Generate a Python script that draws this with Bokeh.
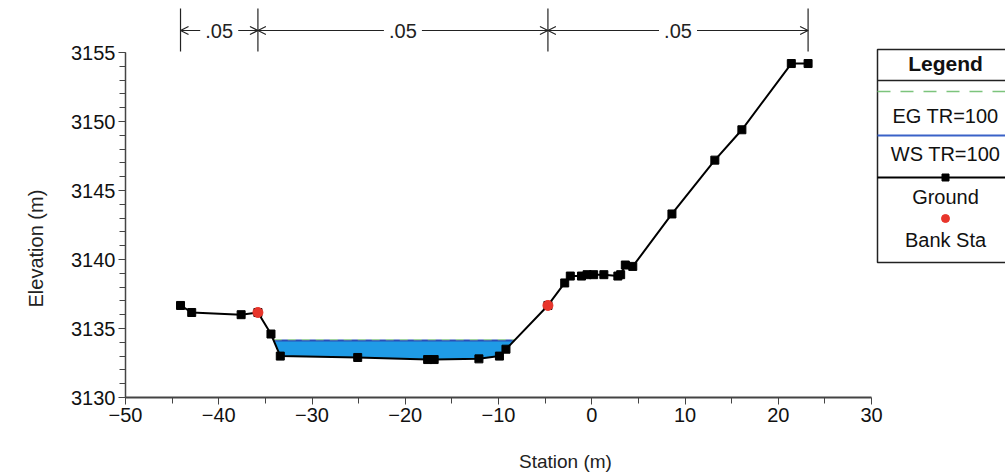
import numpy as np
from bokeh.plotting import figure
from bokeh.models import Range1d, FixedTicker, Arrow, OpenHead, Title
from bokeh.embed import file_html
from bokeh.resources import INLINE
from bokeh.core.properties import value

# ---------------- data ----------------
station = [-44.1, -42.9, -37.6, -35.8, -34.4, -33.4, -25.1, -17.6, -16.9, -12.1,
           -9.9, -9.2, -4.7, -2.9, -2.3, -1.1, -0.5, 0.2, 1.3, 2.8, 3.1, 3.6,
           4.4, 8.6, 13.2, 16.1, 21.4, 23.2]
elevation = [3136.67, 3136.16, 3136.0, 3136.16, 3134.6, 3133.0, 3132.9, 3132.75,
             3132.75, 3132.8, 3133.0, 3133.5, 3136.67, 3138.3, 3138.8, 3138.8,
             3138.9, 3138.9, 3138.9, 3138.8, 3138.9, 3139.6, 3139.5, 3143.3,
             3147.2, 3149.4, 3154.2, 3154.2]
bank_station = [-35.8, -4.7]
bank_elevation = [3136.16, 3136.67]
ws_elev = 3134.13          # WS TR=100
eg_elev = 3134.20          # EG TR=100
n_breaks = [-44.1, -35.8, -4.7, 23.2]
n_values = [".05", ".05", ".05"]
x_ticks = [-50, -40, -30, -20, -10, 0, 10, 20, 30]
y_ticks = [3130, 3135, 3140, 3145, 3150, 3155]
legend_labels = ["EG TR=100", "WS TR=100", "Ground", "Bank Sta"]

# ---------------- layout helpers (pixel -> data) ----------------
W, H = 1005, 475
FL, FB = 125, 397          # frame left px, axis-bottom px
PXX = 9.325                # px per station unit
PXY = 13.8                 # px per elevation unit


def X(px):
    return -50 + (px - FL) / PXX


def Y(py):
    return 3130 + (FB - py) / PXY


FONT = "Liberation Sans"

p = figure(width=W, height=H, output_backend="svg", toolbar_location=None,
           x_range=Range1d(-50, X(W)), y_range=Range1d(3130, Y(0)),
           min_border_left=FL, min_border_right=0, min_border_top=0,
           min_border_bottom=H - FB)
p.outline_line_color = None
p.xgrid.visible = False
p.ygrid.visible = False
p.background_fill_color = "white"
p.border_fill_color = "white"

# axes
p.xaxis.bounds = (x_ticks[0], x_ticks[-1])
p.yaxis.bounds = (y_ticks[0], y_ticks[-1])
p.xaxis.ticker = FixedTicker(ticks=x_ticks,
                             minor_ticks=[t + 5 for t in x_ticks[:-1]])
p.yaxis.ticker = FixedTicker(ticks=y_ticks,
                             minor_ticks=list(range(y_ticks[0], y_ticks[-1] + 1)))
for ax in (p.xaxis, p.yaxis):
    ax.major_label_text_font = FONT
    ax.major_label_text_font_size = "20px"
    ax.major_label_text_color = "#111111"
    ax.axis_line_color = "#444444"
    ax.axis_line_width = 1.5
    ax.major_tick_line_color = "#444444"
    ax.minor_tick_line_color = "#444444"
    ax.major_tick_in = 0
    ax.minor_tick_in = 0
    ax.major_tick_out = 7
    ax.minor_tick_out = 6
    ax.major_label_standoff = 3
p.xaxis.axis_line_width = 2
p.xaxis.axis_label = "Station (m)"
p.xaxis.axis_label_text_font = FONT
p.xaxis.axis_label_text_font_style = "normal"
p.xaxis.axis_label_text_font_size = "19px"
p.xaxis.axis_label_text_color = "#222222"
p.xaxis.axis_label_standoff = 26

# y label as a left-side title
p.add_layout(Title(text="Elevation (m)", align="left", offset=90,
                   text_font=FONT, text_font_size="20px",
                   text_font_style="normal", text_color="#222222",
                   standoff=44), "left")

# ---------------- water ----------------
st = np.array(station)
el = np.array(elevation)
idx = np.where(el < ws_elev)[0]
i0, i1 = idx[0], idx[-1]
xl = st[i0 - 1] + (ws_elev - el[i0 - 1]) / (el[i0] - el[i0 - 1]) * (st[i0] - st[i0 - 1])
xr = st[i1] + (ws_elev - el[i1]) / (el[i1 + 1] - el[i1]) * (st[i1 + 1] - st[i1])
wx = [xl] + list(st[i0:i1 + 1]) + [xr]
wy = [ws_elev] + list(el[i0:i1 + 1]) + [ws_elev]
p.patch(wx, wy, fill_color="#1f9be6", line_color=None)
p.line([xl, xr], [ws_elev, ws_elev], line_color="#2b4fb5", line_width=2)
p.line([xl, xr], [eg_elev, eg_elev], line_color="#9fd49f", line_width=1.2,
       line_dash="8 6")

# ---------------- ground & banks ----------------
p.line(station, elevation, line_color="black", line_width=2)
p.scatter(station, elevation, marker="square", size=8, color="black")
p.scatter(bank_station, bank_elevation, marker="circle", size=10,
          color="#e8352b")

# ---------------- Manning n annotations ----------------
p.segment(x0=n_breaks, y0=[Y(51)] * len(n_breaks), x1=n_breaks,
          y1=[Y(8)] * len(n_breaks), line_color="#222222", line_width=1.2)
ya = Y(30)
gap = 19 / PXX
for a, b, nv in zip(n_breaks[:-1], n_breaks[1:], n_values):
    mid = (a + b) / 2
    for s, e in ((mid - gap, a), (mid + gap, b)):
        p.add_layout(Arrow(x_start=s, y_start=ya, x_end=e, y_end=ya,
                           line_color="#222222", line_width=1.2,
                           end=OpenHead(size=8, line_color="#222222",
                                        line_width=1.2)))
    p.text(x=[mid], y=[ya], text=[nv], text_align="center",
           text_baseline="middle", text_font=value(FONT),
           text_font_size="20px", text_color="#222222")

# ---------------- custom legend ----------------
lx0, lx1 = X(877), X(1013)
lxc = X(945)
p.quad(left=[lx0], right=[lx1], bottom=[Y(262)], top=[Y(49)],
       fill_color="white", line_color="#222222", line_width=1.5)
p.line([lx0, lx1], [Y(80), Y(80)], line_color="#222222", line_width=1.5)
p.text(x=[lxc], y=[Y(63)], text=["Legend"], text_align="center",
       text_baseline="middle", text_font=value(FONT), text_font_style="bold",
       text_font_size="21px", text_color="#111111")
p.line([lx0, lx1], [Y(91), Y(91)], line_color="#7cc47c", line_width=1.5,
       line_dash="13 10")
p.line([lx0, lx1], [Y(135), Y(135)], line_color="#3a62c8", line_width=2)
p.line([lx0, lx1], [Y(177), Y(177)], line_color="black", line_width=2)
p.scatter([lxc], [Y(177)], marker="square", size=7, color="black")
p.scatter([lxc], [Y(218)], marker="circle", size=8, color="#e8352b")
p.text(x=[lxc] * 4, y=[Y(115), Y(153), Y(196), Y(239)], text=legend_labels,
       text_align="center", text_baseline="middle", text_font=value(FONT),
       text_font_size="20px", text_color="#111111")

open("out.html", "w").write(file_html(p, INLINE))
